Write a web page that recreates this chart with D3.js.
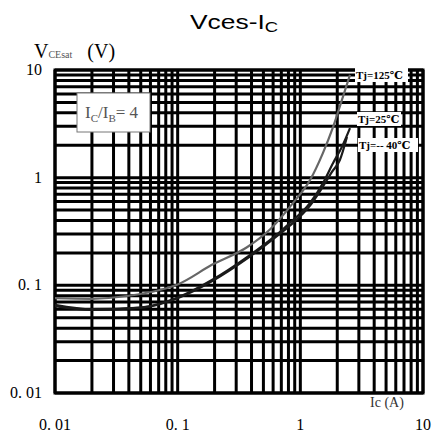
<!DOCTYPE html>
<html>
<head>
<meta charset="utf-8">
<script src="https://cdn.jsdelivr.net/npm/d3@7"></script>
<style>
  body { margin: 0; background: #fff; }
  svg { display: block; }
  .lbl { font-family: "Liberation Serif", "DejaVu Serif", serif; }
</style>
</head>
<body>
<div id="chart"></div>
<script>
// Vces-Ic saturation curves

// tick labels
let xTickValues = [0.01, 0.1, 1, 10];
let xTickLabels = ["0. 01", "0. 1", "1", "10"];
let yTickValues = [10, 1, 0.1, 0.01];
let yTickLabels = ["10", "1", "0. 1", "0. 01"];

// series: [Ic (A), VCEsat (V)]
let curve125 = [[0.01, 0.076], [0.02, 0.075], [0.04, 0.080], [0.07, 0.090], [0.1, 0.102], [0.19, 0.155],
    [0.37, 0.227], [0.565, 0.33], [0.87, 0.58], [1.2, 0.95], [1.53, 1.7], [1.85, 2.96], [2.18, 5.26], [2.54, 9.0]];
let curve25 = [[0.01, 0.064], [0.02, 0.059], [0.05, 0.062], [0.1, 0.077], [0.19, 0.112], [0.37, 0.184],
    [0.68, 0.313], [0.82, 0.379], [1.2, 0.582], [1.53, 0.893], [1.85, 1.37], [2.18, 1.93], [2.54, 2.89]];
let curveM40 = [[0.01, 0.066], [0.02, 0.060], [0.05, 0.062], [0.1, 0.076], [0.19, 0.109], [0.37, 0.178],
    [0.68, 0.300], [0.85, 0.37], [1.2, 0.55], [1.47, 0.77], [1.8, 1.12], [2.1, 1.46], [2.4, 2.39]];
let seriesNames = ["Tj=125℃", "Tj=25℃", "Tj=-- 40℃"];
let seriesColors = ["#666666", "#1a1a1a", "#1a1a1a"];

let width = 437, height = 439;
let margin = {top: 70, right: 14, bottom: 46, left: 55};
let innerW = width - margin.left - margin.right;
let innerH = height - margin.top - margin.bottom;

let svg = d3.select("#chart").append("svg")
    .attr("width", width)
    .attr("height", height);

// title (stretched like the source image)
let title = svg.append("text")
    .attr("transform", "translate(190, 29) scale(1.32, 1)")
    .style("font-family", "'Liberation Sans', Arial, sans-serif")
    .style("font-size", "20px")
    .attr("fill", "#000");
title.append("tspan").text("Vces-I");
title.append("tspan").attr("dy", 3).style("font-size", "14px").text("C");

let g = svg.append("g")
    .attr("transform", `translate(${margin.left}, ${margin.top})`);

// scales
let x = d3.scaleLog().domain([0.01, 10]).range([0, innerW]);
let y = d3.scaleLog().domain([0.01, 10]).range([innerH, 0]);

// grid
g.append("g").selectAll("line")
    .data(x.ticks())
    .join("line")
    .attr("x1", d => x(d)).attr("x2", d => x(d))
    .attr("y1", 0).attr("y2", innerH)
    .attr("stroke", "#000")
    .attr("stroke-width", 3);

g.append("g").selectAll("line")
    .data(y.ticks())
    .join("line")
    .attr("y1", d => y(d)).attr("y2", d => y(d))
    .attr("x1", 0).attr("x2", innerW)
    .attr("stroke", "#000")
    .attr("stroke-width", 3);

g.append("rect")
    .attr("width", innerW).attr("height", innerH)
    .attr("fill", "none")
    .attr("stroke", "#000")
    .attr("stroke-width", 3);

// curves
let line = d3.line()
    .x(d => x(d[0]))
    .y(d => y(d[1]))
    .curve(d3.curveMonotoneX);

[curve125, curve25, curveM40].forEach((c, i) => {
    g.append("path")
        .datum(c)
        .attr("d", line)
        .attr("fill", "none")
        .attr("stroke", seriesColors[i])
        .attr("stroke-width", 2.2);
});

// series labels (white boxes)
let labelPos = [[355, 68, 53], [357, 112, 44], [358, 138, 60]];
seriesNames.forEach((name, i) => {
    let p = labelPos[i];
    svg.append("rect")
        .attr("x", p[0]).attr("y", p[1])
        .attr("width", p[2]).attr("height", 14)
        .attr("fill", "#fff");
    svg.append("text")
        .attr("class", "lbl")
        .attr("x", p[0] + 1).attr("y", p[1] + 11)
        .style("font-size", "11px")
        .style("font-weight", "bold")
        .text(name);
});

// Ic/Ib box
svg.append("rect")
    .attr("x", 77).attr("y", 93)
    .attr("width", 73).attr("height", 39)
    .attr("fill", "#fff")
    .attr("stroke", "#777")
    .attr("stroke-width", 1);
let ratio = svg.append("text")
    .attr("class", "lbl")
    .attr("x", 85).attr("y", 118)
    .attr("fill", "#555")
    .style("font-size", "17px");
ratio.append("tspan").text("I");
ratio.append("tspan").attr("dy", 4).style("font-size", "11px").text("C");
ratio.append("tspan").attr("dy", -4).text("/I");
ratio.append("tspan").attr("dy", 4).style("font-size", "11px").text("B");
ratio.append("tspan").attr("dy", -4).text("= 4");

// tick labels
svg.append("g").selectAll("text")
    .data(xTickValues)
    .join("text")
    .attr("class", "lbl")
    .attr("x", d => margin.left + x(d))
    .attr("y", 430)
    .attr("text-anchor", "middle")
    .style("font-size", "16px")
    .text((d, i) => xTickLabels[i]);

svg.append("g").selectAll("text")
    .data(yTickValues)
    .join("text")
    .attr("class", "lbl")
    .attr("x", 42)
    .attr("y", d => margin.top + y(d) + 5)
    .attr("text-anchor", "end")
    .style("font-size", "16px")
    .text((d, i) => yTickLabels[i]);

// axis titles
let yTitle = svg.append("text")
    .attr("class", "lbl")
    .attr("x", 34).attr("y", 58)
    .style("font-size", "20px");
yTitle.append("tspan").text("V");
yTitle.append("tspan").attr("fill", "#555").style("font-size", "10px").text("CEsat");
yTitle.append("tspan").attr("dx", 15).text("(V)");

svg.append("text")
    .attr("class", "lbl")
    .attr("x", 370).attr("y", 407)
    .attr("fill", "#333")
    .style("font-size", "14px")
    .text("Ic (A)");
</script>
</body>
</html>
